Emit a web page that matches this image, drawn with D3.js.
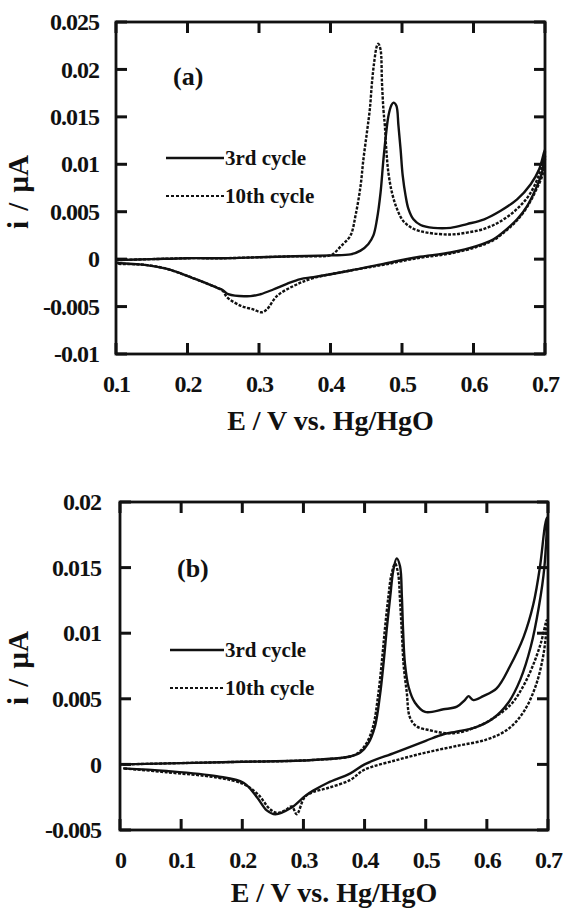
<!DOCTYPE html>
<html>
<head>
<meta charset="utf-8">
<script src="https://cdn.jsdelivr.net/npm/d3@7"></script>
<style>
  body { margin: 0; background: #fff; }
  svg text { font-family: "Liberation Serif", "Times New Roman", serif; fill: #111; }
</style>
</head>
<body>
<div id="chart"></div>
<script>
// panel (a): E (V) vs i (uA), one closed loop per cycle (forward scan then reverse)
const a_cycle3 = [
  [0.100, -0.0001], [0.150, 0.0000], [0.200, 0.0001], [0.250, 0.0001], [0.300, 0.0002],
  [0.350, 0.0003], [0.400, 0.0004], [0.428, 0.0005], [0.442, 0.0009], [0.453, 0.0016],
  [0.460, 0.0025], [0.465, 0.0042], [0.470, 0.0070], [0.474, 0.0105], [0.478, 0.0134],
  [0.481, 0.0151], [0.485, 0.0162], [0.488, 0.0165], [0.492, 0.0162], [0.495, 0.0141],
  [0.498, 0.0116], [0.501, 0.0088], [0.505, 0.0067], [0.509, 0.0053], [0.516, 0.0042],
  [0.526, 0.0036], [0.544, 0.0033], [0.568, 0.0033], [0.591, 0.0037], [0.615, 0.0042],
  [0.638, 0.0051], [0.661, 0.0063], [0.680, 0.0079], [0.692, 0.0095], [0.700, 0.0116],
  [0.696, 0.0092], [0.687, 0.0074], [0.675, 0.0056], [0.661, 0.0042], [0.647, 0.0032],
  [0.628, 0.0021], [0.605, 0.0014], [0.568, 0.0007], [0.521, 0.0002], [0.474, -0.0005],
  [0.428, -0.0012], [0.376, -0.0019], [0.358, -0.0021], [0.339, -0.0026], [0.320, -0.0032],
  [0.302, -0.0037], [0.288, -0.0039], [0.257, -0.0037], [0.250, -0.0033], [0.241, -0.0030],
  [0.218, -0.0023], [0.194, -0.0016], [0.170, -0.0010], [0.140, -0.0006], [0.100, -0.0004]
];
const a_cycle10 = [
  [0.100, -0.0001], [0.150, 0.0000], [0.200, 0.0001], [0.250, 0.0001], [0.300, 0.0002],
  [0.350, 0.0003], [0.400, 0.0004], [0.406, 0.0007], [0.415, 0.0014], [0.428, 0.0025],
  [0.435, 0.0046], [0.442, 0.0077], [0.446, 0.0105], [0.451, 0.0134], [0.455, 0.0158],
  [0.458, 0.0186], [0.461, 0.0207], [0.465, 0.0225], [0.467, 0.0227], [0.470, 0.0221],
  [0.472, 0.0186], [0.474, 0.0158], [0.476, 0.0141], [0.478, 0.0116], [0.481, 0.0091],
  [0.486, 0.0070], [0.493, 0.0053], [0.502, 0.0040], [0.516, 0.0032], [0.535, 0.0028],
  [0.568, 0.0026], [0.591, 0.0028], [0.615, 0.0032], [0.638, 0.0040], [0.661, 0.0053],
  [0.680, 0.0070], [0.696, 0.0098], [0.700, 0.0109],
  [0.697, 0.0090], [0.687, 0.0072], [0.675, 0.0055], [0.661, 0.0041], [0.647, 0.0031],
  [0.628, 0.0020], [0.605, 0.0013], [0.568, 0.0006], [0.521, 0.0001], [0.474, -0.0006],
  [0.428, -0.0012], [0.376, -0.0020], [0.349, -0.0028], [0.325, -0.0039], [0.311, -0.0053],
  [0.304, -0.0056], [0.292, -0.0053], [0.274, -0.0049], [0.255, -0.0040], [0.250, -0.0034],
  [0.241, -0.0030], [0.218, -0.0023], [0.194, -0.0016], [0.170, -0.0010], [0.140, -0.0006],
  [0.100, -0.0005]
];

// panel (b)
const b_cycle3 = [
  [0.005, 0.0000], [0.100, 0.0001], [0.200, 0.0002], [0.300, 0.0003], [0.376, 0.0006],
  [0.393, 0.0009], [0.406, 0.0016], [0.417, 0.0029], [0.425, 0.0052], [0.431, 0.0077],
  [0.436, 0.0102], [0.442, 0.0128], [0.447, 0.0148], [0.4525, 0.0157], [0.458, 0.0151],
  [0.461, 0.0128], [0.463, 0.0102], [0.466, 0.0077], [0.472, 0.0059], [0.4825, 0.0047],
  [0.499, 0.0040], [0.529, 0.0042], [0.551, 0.0044], [0.564, 0.0049], [0.570, 0.0052],
  [0.578, 0.0049], [0.594, 0.0052], [0.616, 0.0058], [0.638, 0.0075], [0.660, 0.0097],
  [0.676, 0.0122], [0.687, 0.0151], [0.695, 0.0182], [0.698, 0.0188],
  [0.694, 0.0150], [0.685, 0.0120], [0.672, 0.0090], [0.655, 0.0065], [0.635, 0.0047],
  [0.610, 0.0035], [0.580, 0.0028], [0.550, 0.0025], [0.529, 0.0023], [0.500, 0.0018],
  [0.450, 0.0009], [0.400, 0.0000], [0.376, -0.0007], [0.340, -0.0014], [0.316, -0.0020],
  [0.303, -0.0024], [0.280, -0.0033], [0.254, -0.0038], [0.240, -0.0035], [0.224, -0.0025],
  [0.202, -0.0014], [0.158, -0.0009], [0.076, -0.0005], [0.005, -0.0003]
];
const b_cycle10 = [
  [0.005, 0.0000], [0.100, 0.0001], [0.200, 0.0002], [0.300, 0.0003], [0.376, 0.0006],
  [0.390, 0.0009], [0.403, 0.0016], [0.414, 0.0029], [0.422, 0.0052], [0.428, 0.0077],
  [0.433, 0.0102], [0.439, 0.0128], [0.444, 0.0145], [0.450, 0.0153], [0.455, 0.0145],
  [0.458, 0.0125], [0.461, 0.0100], [0.464, 0.0075], [0.469, 0.0055], [0.474, 0.0036],
  [0.485, 0.0029], [0.507, 0.0026], [0.529, 0.0024], [0.551, 0.0024], [0.580, 0.0028],
  [0.610, 0.0035], [0.640, 0.0046], [0.660, 0.0060], [0.675, 0.0075], [0.688, 0.0092],
  [0.698, 0.0110],
  [0.693, 0.0085], [0.680, 0.0060], [0.660, 0.0040], [0.635, 0.0027], [0.600, 0.0019],
  [0.550, 0.0014], [0.500, 0.0009], [0.450, 0.0003], [0.400, -0.0004], [0.376, -0.0012],
  [0.340, -0.0018], [0.316, -0.0021], [0.302, -0.0025], [0.289, -0.0038], [0.281, -0.0032],
  [0.270, -0.0035], [0.257, -0.0037], [0.245, -0.0034], [0.226, -0.0023], [0.202, -0.0015],
  [0.158, -0.0010], [0.076, -0.0006], [0.005, -0.0003]
];

const a_xTicks = [0.1, 0.2, 0.3, 0.4, 0.5, 0.6, 0.7];
const a_yTicks = [-0.01, -0.005, 0, 0.005, 0.01, 0.015, 0.02, 0.025];
const b_xTicks = [0, 0.1, 0.2, 0.3, 0.4, 0.5, 0.6, 0.7];
const b_yTicks = [-0.005, 0, 0.005, 0.01, 0.015, 0.02];
const legendLabels = ["3rd cycle", "10th cycle"];

const width = 563, height = 908;
const tickLen = 11;

const svg = d3.select('#chart').append('svg')
  .attr('width', width)
  .attr('height', height);

function drawPanel(p) {
  const x = d3.scaleLinear().domain(p.xDomain).range([p.left, p.right]);
  const y = d3.scaleLinear().domain(p.yDomain).range([p.bottom, p.top]);
  const g = svg.append('g');
  const fmt = d => String(+d.toFixed(3));

  // tick labels from the axes, tick marks drawn below (inward, all four sides)
  g.append('g').attr('transform', `translate(0,${p.bottom})`)
    .call(d3.axisBottom(x).tickValues(p.xTicks).tickSize(0).tickPadding(21).tickFormat(fmt));
  g.append('g').attr('transform', `translate(${p.left},0)`)
    .call(d3.axisLeft(y).tickValues(p.yTicks).tickSize(0).tickPadding(p.yPad).tickFormat(fmt));
  g.selectAll('.domain').remove();
  g.selectAll('.tick text')
    .style('font-family', '"Liberation Serif", serif')
    .style('font-size', '24px')
    .style('font-weight', 'bold')
    .style('letter-spacing', '-1px')
    .attr('fill', '#111');

  const ticks = g.append('g');
  const tick = (x1, y1, x2, y2) => ticks.append('line')
    .attr('x1', x1).attr('y1', y1).attr('x2', x2).attr('y2', y2)
    .attr('stroke', '#111').attr('stroke-width', 3);
  p.xTicks.forEach(v => {
    tick(x(v), p.bottom, x(v), p.bottom - tickLen);
    tick(x(v), p.top, x(v), p.top + tickLen);
  });
  p.yTicks.forEach(v => {
    tick(p.left, y(v), p.left + tickLen, y(v));
    tick(p.right, y(v), p.right - tickLen, y(v));
  });

  g.append('rect')
    .attr('x', p.left).attr('y', p.top)
    .attr('width', p.right - p.left).attr('height', p.bottom - p.top)
    .attr('fill', 'none').attr('stroke', '#111').attr('stroke-width', 2.8);

  const line = d3.line().curve(d3.curveCatmullRom.alpha(0.5))
    .x(d => x(d[0])).y(d => y(d[1]));

  g.append('path').datum(p.c3)
    .attr('d', line).attr('fill', 'none')
    .attr('stroke', '#111').attr('stroke-width', 2.4).attr('stroke-linejoin', 'round');
  g.append('path').datum(p.c10)
    .attr('d', line).attr('fill', 'none')
    .attr('stroke', '#111').attr('stroke-width', 2.4).attr('stroke-dasharray', '3,1.5');

  // panel letter
  g.append('text').attr('x', p.left + 57).attr('y', p.letterY)
    .style('font-size', '26px').style('font-weight', 'bold')
    .text(p.letter);

  // legend
  g.append('line').attr('x1', p.left + 50).attr('x2', 224)
    .attr('y1', p.legY).attr('y2', p.legY)
    .attr('stroke', '#111').attr('stroke-width', 2.4);
  g.append('line').attr('x1', p.left + 50).attr('x2', 224)
    .attr('y1', p.legY + 38).attr('y2', p.legY + 38)
    .attr('stroke', '#111').attr('stroke-width', 1.8).attr('stroke-dasharray', '3,2');
  legendLabels.forEach((t, i) => {
    g.append('text').attr('x', 225).attr('y', p.legY + 7 + i * 38)
      .style('font-size', '21px').style('font-weight', 'bold')
      .text(t);
  });

  // axis titles
  g.append('text')
    .attr('x', (p.left + p.right) / 2).attr('y', p.xTitleY)
    .attr('text-anchor', 'middle')
    .style('font-size', '28px').style('font-weight', 'bold')
    .text('E / V vs. Hg/HgO');
  g.append('text')
    .attr('transform', `translate(28,${p.yTitleY}) rotate(-90)`)
    .attr('text-anchor', 'middle')
    .style('font-size', '29px').style('font-weight', 'bold')
    .style('word-spacing', '3px')
    .text('i / μA');
}

drawPanel({
  left: 116, right: 545, top: 22, bottom: 354,
  xDomain: [0.1, 0.7], yDomain: [-0.01, 0.025],
  xTicks: a_xTicks, yTicks: a_yTicks, yPad: 17,
  c3: a_cycle3, c10: a_cycle10,
  letter: '(a)', letterY: 85, legY: 158,
  xTitleY: 430, yTitleY: 192
});

drawPanel({
  left: 120, right: 548, top: 502, bottom: 830,
  xDomain: [0, 0.7], yDomain: [-0.005, 0.02],
  xTicks: b_xTicks, yTicks: b_yTicks, yPad: 19,
  c3: b_cycle3, c10: b_cycle10,
  letter: '(b)', letterY: 577, legY: 650,
  xTitleY: 902, yTitleY: 668
});
</script>
</body>
</html>
